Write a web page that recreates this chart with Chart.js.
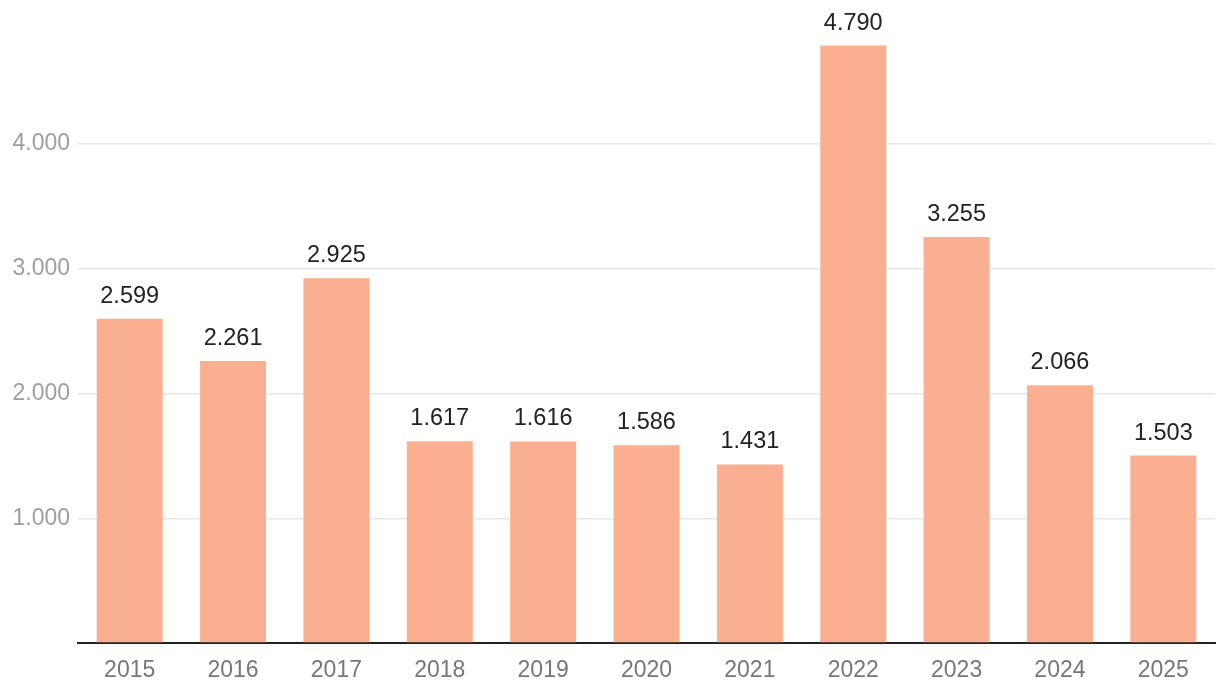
<!DOCTYPE html>
<html>
<head>
<meta charset="utf-8">
<script src="https://cdn.jsdelivr.net/npm/chart.js@4/dist/chart.umd.min.js"></script>
<style>
  html, body { margin: 0; padding: 0; background: #fff; }
  #wrap { width: 1220px; height: 696px; }
</style>
</head>
<body>
<div id="wrap"><canvas id="barChart"></canvas></div>
<script>
// Données
const years = ['2015', '2016', '2017', '2018', '2019', '2020', '2021', '2022', '2023', '2024', '2025'];
const values = [2599, 2261, 2925, 1617, 1616, 1586, 1431, 4790, 3255, 2066, 1503];
const yTicks = [1000, 2000, 3000, 4000];
const yMax = 4980;

const fontFamily = '"Liberation Sans", Arial, Helvetica, sans-serif';

function fmt(n) {
    return String(n).replace(/\B(?=(\d{3})+(?!\d))/g, '.');
}

// étiquettes au-dessus des barres
const valueLabels = {
    id: 'valueLabels',
    afterDatasetsDraw(chart) {
        const ctx = chart.ctx;
        const meta = chart.getDatasetMeta(0);
        ctx.save();
        ctx.font = '23.5px ' + fontFamily;
        ctx.fillStyle = '#222';
        ctx.textAlign = 'center';
        ctx.textBaseline = 'alphabetic';
        meta.data.forEach((bar, i) => {
            ctx.fillText(fmt(values[i]), bar.x, bar.y - 16);
        });
        ctx.restore();
    }
};

new Chart(document.getElementById('barChart').getContext('2d'), {
    type: 'bar',
    data: {
        labels: years,
        datasets: [{
            data: values,
            backgroundColor: 'rgb(250, 175, 144)',
            borderWidth: 0,
            categoryPercentage: 0.638,
            barPercentage: 1
        }]
    },
    options: {
        responsive: true,
        maintainAspectRatio: false,
        animation: false,
        layout: { padding: { top: 3.5, right: 5, left: 0, bottom: 0 } },
        plugins: {
            legend: { display: false },
            tooltip: { enabled: false }
        },
        scales: {
            x: {
                grid: { display: false, drawTicks: false },
                border: { display: true, color: '#222', width: 2 },
                ticks: {
                    color: '#777',
                    font: { size: 23, family: fontFamily },
                    padding: 14
                },
                afterFit(scale) { scale.height = 53; }
            },
            y: {
                min: 0,
                max: yMax,
                afterBuildTicks(scale) {
                    scale.ticks = [0].concat(yTicks).map(v => ({ value: v }));
                },
                grid: {
                    drawTicks: false,
                    color: ctx => (ctx.tick && yTicks.includes(ctx.tick.value)) ? '#e6e6e6' : 'rgba(0,0,0,0)',
                    lineWidth: 1.5
                },
                border: { display: false },
                ticks: {
                    color: '#9e9e9e',
                    font: { size: 23, family: fontFamily },
                    padding: 8,
                    callback: v => yTicks.includes(v) ? fmt(v) : ''
                },
                afterFit(scale) { scale.width = 78; }
            }
        }
    },
    plugins: [valueLabels]
});
</script>
</body>
</html>
